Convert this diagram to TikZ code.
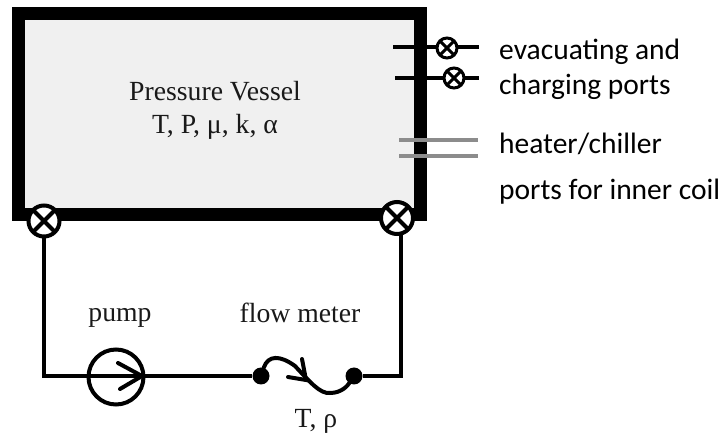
\documentclass[tikz,border=0pt]{standalone}
\usepackage{fontspec}
\setmainfont{Liberation Serif}
\newfontfamily\calib{Carlito}
\begin{document}
\begin{tikzpicture}[x=1pt,y=-1pt,
  serif/.style={font=\fontsize{27.7}{32}\selectfont,inner sep=0pt,text=black!90,anchor=base},
  side/.style={font=\calib\fontsize{29.5}{34}\selectfont,inner sep=0pt,anchor=base west},
  pipe/.style={line width=4pt,black},
  thin pipe/.style={line width=3.6pt,black},
  heat/.style={line width=3.6pt,black!45},
  valve/.style={circle,draw,fill=white,line width=4pt,minimum size=#1,inner sep=0pt,outer sep=0pt,path picture={
    \draw[line width=4pt] (path picture bounding box.north west)--(path picture bounding box.south east)
      (path picture bounding box.north east)--(path picture bounding box.south west);}},
  small valve/.style={circle,draw,fill=white,line width=3pt,minimum size=#1,inner sep=0pt,outer sep=0pt,path picture={
    \draw[line width=3pt] (path picture bounding box.north west)--(path picture bounding box.south east)
      (path picture bounding box.north east)--(path picture bounding box.south west);}},
  dot/.style={circle,fill=black,minimum size=17pt,inner sep=0pt}]
\useasboundingbox (0,0) rectangle (721,435);
% vessel
\node[draw=black,fill=black!6,line width=13pt,minimum width=402pt,minimum height=201pt,inner sep=0pt,outer sep=0pt] (vessel) at (219.5,114) {};
\node[serif] (t1) at (215,101) {Pressure Vessel};
\node[serif] (t2) at (215,134) {T, P, μ, k, α};
% loop
\coordinate (c1) at (44,376);
\coordinate (c2) at (401,376);
\node[valve=31pt] (vl) at (44,221) {};
\node[valve=32pt] (vr) at (397,218) {};
\node[dot] (fa) at (261,376) {};
\node[dot] (fb) at (354,376) {};
\node[circle,draw,line width=4pt,minimum size=55pt,inner sep=0pt,outer sep=0pt] (pump) at (116,377) {};
\draw[pipe] (vl) -- (c1) -- (pump.east |- c1) -- (fa);
\draw[pipe] (fb) -- (c2) -- (c2 |- vr.south);
\draw[pipe,line cap=round] (118,363) -- (142,376) -- (120,389);
\draw[pipe,line cap=round] (fa) .. controls (268,355) and (280,355) .. (295,366) .. controls (310,382) and (320,394) .. (330,393) .. controls (342,393) and (348,385) .. (fb);
\draw[pipe,line cap=round] (288,377) -- (306,380) -- (302,359);
\node[serif] (lp) at (120,322) {pump};
\node[serif] (lf) at (300,323) {flow meter};
\node[serif] (lt) at (316,428) {T, ρ};
% ports
\coordinate (p1a) at (393,47); \coordinate (p1b) at (479,47);
\coordinate (p2a) at (395,78); \coordinate (p2b) at (479,78);
\draw[thin pipe] (p1a) -- (p1b);
\draw[thin pipe] (p2a) -- (p2b);
\node[small valve=20pt] (v1) at (447,48) {};
\node[small valve=20pt] (v2) at (454,78) {};
\coordinate (h1a) at (399,140); \coordinate (h1b) at (478,140);
\coordinate (h2a) at (399,156); \coordinate (h2b) at (478,156);
\draw[heat] (h1a) -- (h1b);
\draw[heat] (h2a) -- (h2b);
\node[side] (s1) at (499,60) {evacuating and};
\node[side] (s2) at (499,95) {charging ports};
\node[side] (s3) at (499,154) {heater/chiller};
\node[side] (s4) at (499,200) {ports for inner coil};
\end{tikzpicture}
\end{document}
